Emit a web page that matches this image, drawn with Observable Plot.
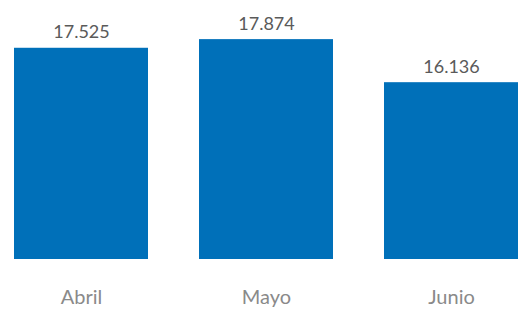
<!DOCTYPE html>
<html>
<head>
<meta charset="utf-8">
<script src="https://cdn.jsdelivr.net/npm/d3@7"></script>
<script src="https://cdn.jsdelivr.net/npm/@observablehq/plot@0.6"></script>
<style>
  html, body { margin: 0; padding: 0; background: #fff; }
  svg { display: block; font-family: Lato, "Open Sans", sans-serif; }
</style>
</head>
<body>
<div id="chart"></div>
<script>
const months = ["Abril", "Mayo", "Junio"];
const values = [17.525, 17.874, 16.136];
const valueLabels = ["17.525", "17.874", "16.136"];
const yBase = 9;
const yTop = 18;

const data = months.map((m, i) => ({month: m, value: values[i], label: valueLabels[i]}));

const chart = Plot.plot({
  width: 522,
  height: 309,
  marginLeft: 14,
  marginRight: 4,
  marginTop: 0,
  marginBottom: 50,
  style: {fontFamily: "Lato, 'Open Sans', sans-serif", background: "#fff"},
  x: {domain: months, paddingInner: 0.276, paddingOuter: 0, label: null},
  y: {domain: [yBase, yTop], range: [259, 36], axis: null},
  marks: [
    Plot.barY(data, {x: "month", y1: yBase, y2: "value", fill: "#0070B9"}),
    Plot.text(data, {x: "month", y: "value", text: "label", lineAnchor: "bottom", dy: -10, fontSize: 18, fill: "#5a5a5a"}),
    Plot.axisX({tickSize: 0, tickPadding: 30, fontSize: 20, fill: "#8a8a8a", label: null})
  ]
});
document.getElementById("chart").appendChild(chart);
</script>
</body>
</html>
